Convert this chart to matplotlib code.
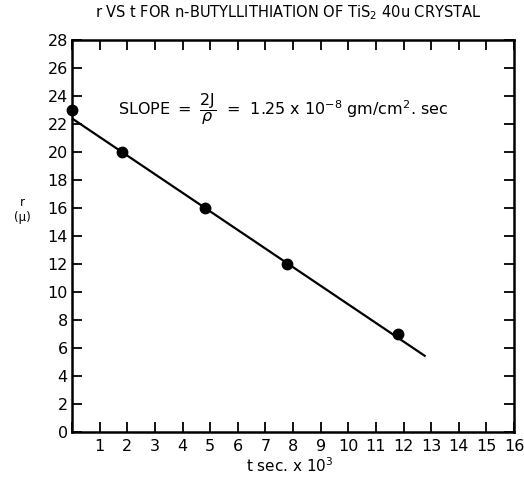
import matplotlib
matplotlib.use("Agg")
import matplotlib.pyplot as plt

# Data
t_points = [0.0, 1.8, 4.8, 7.8, 11.8]        # t sec x 10^3
r_points = [23.0, 20.0, 16.0, 12.0, 7.0]     # r (micron)
t_fit = [0.0, 12.8]
r_fit = [22.4, 5.4]
x_ticks = list(range(0, 17))
x_tick_labels = [""] + [str(i) for i in range(1, 17)]
y_ticks = list(range(0, 29, 2))

plt.rcParams['font.family'] = ['DejaVu Sans']

fig = plt.figure(figsize=(5.24, 4.8), dpi=100)
ax = fig.add_axes([72/524, 1-432/480, (514-72)/524, (432-40)/480])

ax.plot(t_fit, r_fit, color='black', lw=1.6, solid_capstyle='butt', clip_on=False)
ax.plot(t_points, r_points, 'o', color='black', markersize=7.5, clip_on=False, zorder=5)

ax.set_xlim(0, 16)
ax.set_ylim(0, 28)
ax.set_xticks(x_ticks)
ax.set_xticklabels(x_tick_labels)
ax.set_yticks(y_ticks)
ax.tick_params(direction='in', length=7, width=1.3, labelsize=11.5,
               top=True, right=True, pad=3)
ax.tick_params(axis='x', pad=5)
for s in ax.spines.values():
    s.set_linewidth(1.8)

fig.text(288/524, 1-13/480, "r VS t FOR n-BUTYLLITHIATION OF TiS$_2$ 40u CRYSTAL",
         ha='center', va='center', fontsize=10.5)
fig.text(290/524, 1-466/480, "t sec. x 10$^3$", ha='center', va='center', fontsize=11)
fig.text(22/524, 1-210/480, "r\n(\u03bc)", ha='center', va='center', fontsize=8.5,
         linespacing=1.1)

ax.text(1.67, 23.1,
        r"SLOPE $=$ $\dfrac{\mathrm{2J}}{\rho}$  =  1.25 x 10$^{-8}$ gm/cm$^2$. sec",
        ha='left', va='center', fontsize=11.5)

fig.savefig("out.png", dpi=100)
